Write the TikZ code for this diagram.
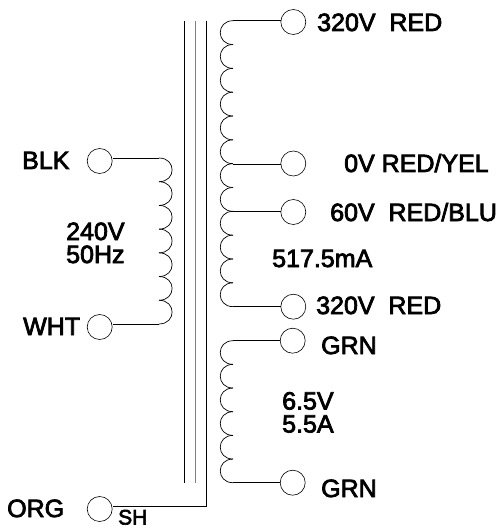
\documentclass[tikz,border=0pt]{standalone}
\usepackage{fontspec}
\setmainfont[FakeBold=3]{Liberation Sans}
\tikzset{
    term/.style={draw,circle,minimum size=25pt,inner sep=0pt,line width=.6pt},
    lbl/.style={anchor=base west,inner sep=0pt,font=\fontsize{25pt}{25pt}\selectfont},
    lblsmall/.style={lbl,font=\fontsize{21pt}{21pt}\selectfont},
    wire/.style={line width=.7pt}
}
\begin{document}
\begin{tikzpicture}[x=1pt,y=-1pt]
    \useasboundingbox (0,0) rectangle (501,529);
    % core
    \draw[wire] (184.5,21) -- (184.5,483);
    \draw[line width=1.3pt,color=gray] (195.5,21) -- (195.5,483);
    % terminals
    \node[term] (blk) at (99.7,161) {};
    \node[term] (wht) at (99.7,327) {};
    \node[term] (org) at (99.7,509) {};
    \node[term] (redtop) at (293.3,22) {};
    \node[term] (redyel) at (293.3,163.5) {};
    \node[term] (redblu) at (293.3,212) {};
    \node[term] (redbot) at (293.3,306.7) {};
    \node[term] (grntop) at (292.7,340.7) {};
    \node[term] (grnbot) at (292.7,482.7) {};
    \coordinate (pria) at (159,158);
    \coordinate (prib) at (159,324);
    \coordinate (seca) at (233,20.7);
    \coordinate (tapa) at (233,164);
    \coordinate (tapb) at (233,211.7);
    \coordinate (secb) at (233,306.7);
    \coordinate (fila) at (233,340.7);
    \coordinate (filb) at (233,482.7);
    \coordinate (shtop) at (206,21);
    \coordinate (shbot) at (206,506);
    % windings
    \foreach \i [evaluate=\i as \ya using 158+\i*23.71,evaluate=\i as \yb using 158+(\i+1)*23.71] in {0,...,6}
        \draw[wire] (159,\ya) .. controls (176.5,\ya) and (176.5,\yb) .. (159,\yb);
    \foreach \i [evaluate=\i as \ya using 20.7+\i*23.83,evaluate=\i as \yb using 20.7+(\i+1)*23.83] in {0,...,11}
        \draw[wire] (233,\ya) .. controls (216,\ya) and (216,\yb) .. (233,\yb);
    \foreach \i [evaluate=\i as \ya using 340.7+\i*23.67,evaluate=\i as \yb using 340.7+(\i+1)*23.67] in {0,...,5}
        \draw[wire] (233,\ya) .. controls (216,\ya) and (216,\yb) .. (233,\yb);
    % leads
    \draw[wire] (blk.east |- pria) -- (pria);
    \draw[wire] (wht.east |- prib) -- (prib);
    \draw[wire] (redtop.west |- seca) -- (seca);
    \draw[wire] (redyel.west |- tapa) -- (tapa);
    \draw[wire] (redblu.west |- tapb) -- (tapb);
    \draw[wire] (redbot.west |- secb) -- (secb);
    \draw[wire] (grntop.west |- fila) -- (fila);
    \draw[wire] (grnbot.west |- filb) -- (filb);
    \draw[wire] (shtop) -- (shbot) -- (org.east |- shbot);
    % labels
    \node[lbl] (lblk) at (22,169) {BLK};
    \node[lbl] (lwht) at (23,335) {WHT};
    \node[lbl] (lorg) at (7,517) {ORG};
    \node[lblsmall] (lsh) at (118,524.5) {SH};
    \node[lbl] (lvolt) at (66,240) {240V};
    \node[lbl] (lhz) at (66,263) {50Hz};
    \node[lbl] (lrtop) at (317,31) {320V\ \ RED};
    \node[lbl] (lry) at (344,172) {0V RED/YEL};
    \node[lbl] (lrb) at (330,221) {60V\ \ RED/BLU};
    \node[lbl] (lma) at (272,267) {517.5mA};
    \node[lbl] (lrbot) at (316,314) {320V\ \ RED};
    \node[lbl] (lgtop) at (321,354) {GRN};
    \node[lbl] (lgbot) at (321,497) {GRN};
    \node[lbl] (lfv) at (282,409.5) {6.5V};
    \node[lbl] (lfa) at (282,432.5) {5.5A};
\end{tikzpicture}
\end{document}
